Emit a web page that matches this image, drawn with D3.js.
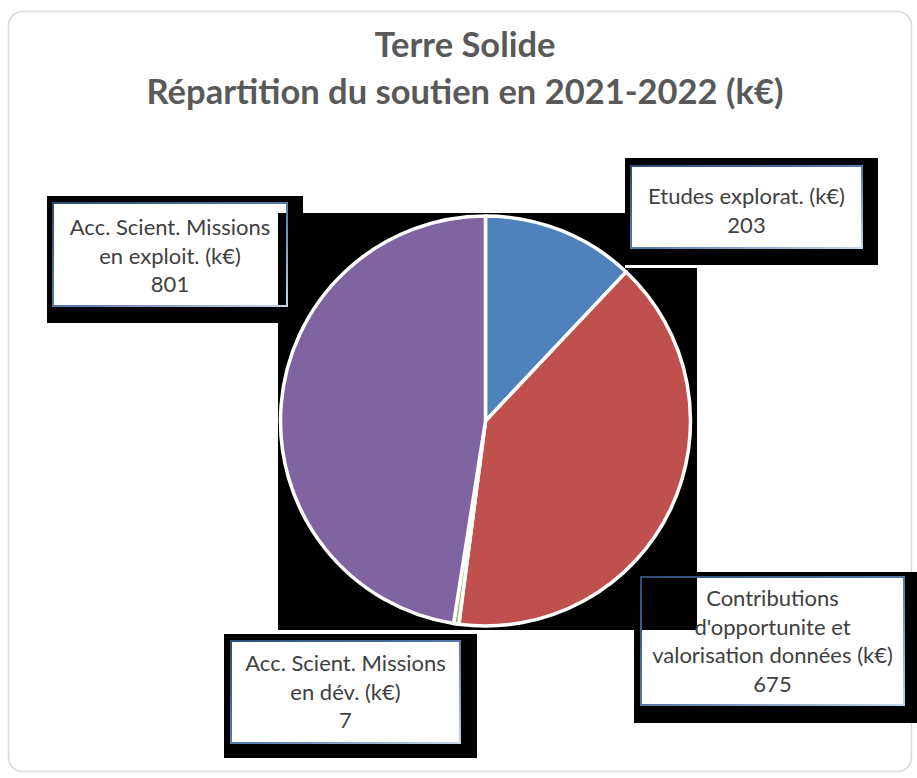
<!DOCTYPE html>
<html>
<head>
<meta charset="utf-8">
<script src="https://cdn.jsdelivr.net/npm/d3@7/dist/d3.min.js"></script>
<style>
  html, body { margin: 0; padding: 0; background: #ffffff; }
  svg { display: block; }
  text { font-family: Lato, "Open Sans", "Noto Sans", sans-serif; }
</style>
</head>
<body>
<svg id="chart" width="917" height="778"></svg>
<script>
// Support per programme line, in k€ (slices run clockwise from 12 o'clock)
const categories = [
  "Etudes explorat.",
  "Contributions d'opportunite et valorisation données",
  "Acc. Scient. Missions en dév.",
  "Acc. Scient. Missions en exploit."
];
const values = [203, 675, 7, 801];
const labelLines = [
  ["Etudes explorat. (k€)"],
  ["Contributions", "d'opportunite et", "valorisation données (k€)"],
  ["Acc. Scient. Missions", "en dév. (k€)"],
  ["Acc. Scient. Missions", "en exploit. (k€)"]
];
const colors = ["#4f81bd", "#c0504d", "#9bbb59", "#8064a2"];
const titleLines = ["Terre Solide", "Répartition du soutien en 2021-2022 (k€)"];

// Layout
const W = 917, H = 778;
const cx = 485.5, cy = 421, R = 205;
const plotArea = { x: 278, y: 213, w: 419, h: 417 };
// label boxes: backing (dark frame) and inner box, text centre and first baseline
const labelLayout = [
  { back: [625, 158, 253, 107], box: [631, 166, 231, 82], tx: 746.5, ty: 204 },
  { back: [634, 572, 290, 151], box: [641, 577, 263, 128], tx: 772.5, ty: 606 },
  { back: [224, 634, 253, 124], box: [231, 641, 229, 102], tx: 345.5, ty: 671 },
  { back: [47, 196, 256, 127], box: [53, 203, 234, 103], tx: 170, ty: 235 }
];
const lineH = 28.5;

const svg = d3.select("#chart");

const defs = svg.append("defs");
const grad = defs.append("linearGradient")
  .attr("id", "boxStroke").attr("x1", "0").attr("y1", "0").attr("x2", "1").attr("y2", "1");
grad.append("stop").attr("offset", "0%").attr("stop-color", "#2c4d75");
grad.append("stop").attr("offset", "55%").attr("stop-color", "#5b7fae");
grad.append("stop").attr("offset", "100%").attr("stop-color", "#c6d6ea");

// Chart card
svg.append("rect")
  .attr("x", 8.5).attr("y", 11.5).attr("width", 903).attr("height", 760)
  .attr("rx", 14).attr("ry", 14)
  .attr("fill", "#ffffff").attr("stroke", "#d9d9d9").attr("stroke-width", 1.5);

// Title
svg.append("g").selectAll("text").data(titleLines).join("text")
  .attr("x", 465).attr("y", (d, i) => 57 + i * 47)
  .attr("text-anchor", "middle")
  .attr("font-size", 34.5).attr("font-weight", 700)
  .attr("fill", "#595959")
  .text(d => d);

const labels = categories.map((c, i) => ({
  name: c, value: values[i], lines: labelLines[i].concat([String(values[i])]), lay: labelLayout[i]
}));

function drawBack(g, d) {
  const b = d.lay.back, bx = d.lay.box;
  g.append("rect").attr("x", b[0]).attr("y", b[1]).attr("width", b[2]).attr("height", b[3]).attr("fill", "#000");
  g.append("rect").attr("x", bx[0]).attr("y", bx[1]).attr("width", bx[2]).attr("height", bx[3]).attr("fill", "#fff");
}

const backLayer = svg.append("g");
// labels that sit beneath the plot area
[labels[3], labels[1]].forEach(d => drawBack(backLayer, d));

// Plot area
svg.append("rect")
  .attr("x", plotArea.x).attr("y", plotArea.y).attr("width", plotArea.w).attr("height", plotArea.h)
  .attr("fill", "#000");

const frontLayer = svg.append("g");
frontLayer.append("rect").attr("x", 625).attr("y", 213).attr("width", 72).attr("height", 55).attr("fill", "#fff");
[labels[0], labels[2]].forEach(d => drawBack(frontLayer, d));

// Pie
const pie = d3.pie().sort(null).value(d => d.value).startAngle(0).endAngle(2 * Math.PI);
const arc = d3.arc().innerRadius(0).outerRadius(R);
svg.append("g").attr("transform", `translate(${cx},${cy})`)
  .selectAll("path").data(pie(labels)).join("path")
  .attr("d", arc)
  .attr("fill", (d, i) => colors[i])
  .attr("stroke", "#ffffff").attr("stroke-width", 3.5).attr("stroke-linejoin", "round");

// Label frames and text
const lab = svg.append("g").selectAll("g").data(labels).join("g");
lab.append("rect")
  .attr("x", d => d.lay.box[0]).attr("y", d => d.lay.box[1])
  .attr("width", d => d.lay.box[2]).attr("height", d => d.lay.box[3])
  .attr("fill", "none").attr("stroke", "url(#boxStroke)").attr("stroke-width", 2);
lab.each(function (d) {
  d3.select(this).selectAll("text").data(d.lines).join("text")
    .attr("x", d.lay.tx).attr("y", (t, j) => d.lay.ty + j * lineH)
    .attr("text-anchor", "middle")
    .attr("font-size", 22)
    .attr("fill", "#404040")
    .text(t => t);
});
</script>
</body>
</html>
